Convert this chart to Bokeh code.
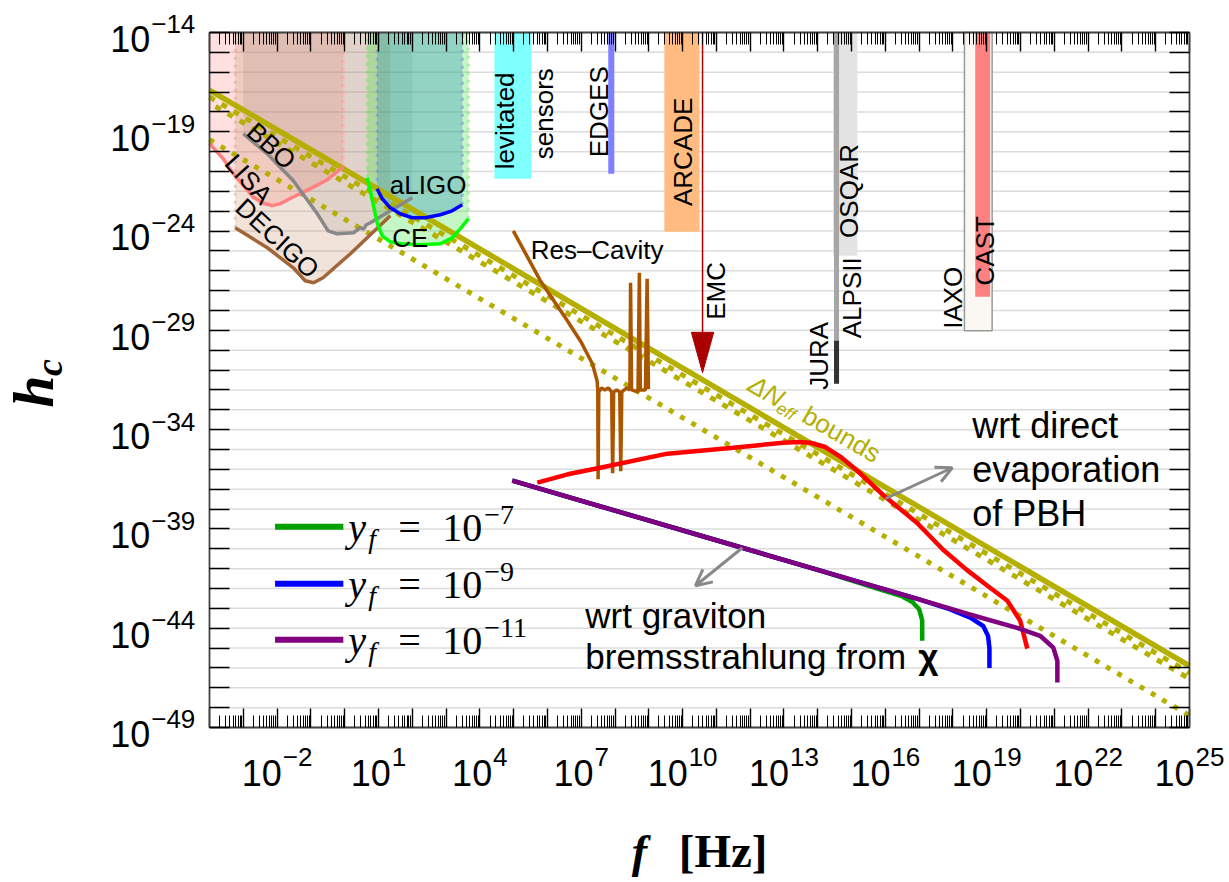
import math
import numpy as np
from bokeh.plotting import figure
from bokeh.models import (LogAxis, FixedTicker, Label, Arrow, OpenHead, Range1d,
                          CustomJSTickFormatter)
from bokeh.embed import file_html
from bokeh.resources import INLINE

# ---------------- data (all values are log10 of f [Hz] and h_c) ----------------
f_min, f_max = -4, 25          # plotted frequency decades
h_min, h_max = -49, -14        # plotted h_c decades
view_f = (-10.185, 26.184)     # whole canvas in log10 f (room for tick labels / titles)
view_h = (-56.806, -12.389)    # whole canvas in log10 h_c
PX_PER_DEC_F = 33.79
PX_PER_DEC_H = 19.857

x_label_exps = [-2, 1, 4, 7, 10, 13, 16, 19, 22, 25]
y_label_exps = [-14, -19, -24, -29, -34, -39, -44, -49]

# Delta N_eff bounds (end points)
neff_f = [-4, 25]
neff_solid = [-16.9, -45.9]
neff_dash_a = [-17.25, -46.25]
neff_dash_b = [-17.55, -46.55]
neff_dot = [-19.4, -48.4]

# detector sensitivity curves
lisa_f = [-4.0, -3.6, -3.3, -3.0, -2.7, -2.4, -2.15, -1.9, -1.6, -1.0, -0.5, -0.04]
lisa_h = [-19.6, -20.35, -21.1, -21.7, -22.3, -22.6, -22.72, -22.62, -22.35, -21.85, -21.4, -20.76]
bbo_f = [-3.0, -2.29, -1.52, -0.81, -0.49, -0.22, 0.26, 0.46, 0.56, 0.64, 0.76, 2.0]
bbo_h = [-19.1, -20.11, -21.47, -23.13, -23.99, -24.14, -24.09, -23.83, -23.9, -23.68, -23.58, -22.32]
decigo_f = [-3.24, -2.29, -1.52, -1.17, -0.92, -0.64, 0.17, 1.35]
decigo_h = [-23.83, -24.84, -25.85, -26.5, -26.6, -26.35, -25.14, -23.23]
aligo_f = [0.96, 1.11, 1.35, 1.64, 2.0, 2.38, 2.83, 3.18, 3.48]
aligo_h = [-21.87, -22.37, -22.83, -23.13, -23.33, -23.33, -23.18, -22.98, -22.68]
ce_f = [0.67, 0.82, 0.96, 1.11, 1.35, 1.64, 2.24, 2.83, 3.18, 3.42, 3.66]
ce_h = [-21.32, -22.47, -23.58, -24.24, -24.54, -24.64, -24.69, -24.64, -24.34, -23.89, -23.38]

# resonant cavity
rescav_f = [4.99, 5.79, 6.59, 7.0, 7.33, 7.47, 7.49, 7.50, 7.52, 7.60, 7.70, 7.80, 7.90, 7.93, 7.96,
            8.05, 8.14, 8.17, 8.20, 8.35, 8.44, 8.46, 8.49, 8.68, 8.72, 8.75, 8.90, 8.95, 8.99]
rescav_h = [-23.99, -26.50, -28.52, -29.6, -30.68, -31.54, -32.04, -36.5, -32.1, -31.9, -32.0, -31.9,
            -32.1, -36.2, -32.1, -32.0, -32.1, -36.1, -32.1, -31.9, -32.0, -26.6, -32.0, -32.1,
            -26.1, -32.0, -32.0, -26.4, -31.95]

# GW signal from direct evaporation of PBH
red_f = [5.70, 6.6, 7.56, 9.55, 11.50, 12.98, 13.4, 13.78, 14.2, 14.7, 15.17, 15.94, 16.94,
         17.71, 18.4, 19.02, 19.61, 19.99, 20.20]
red_h = [-36.67, -36.25, -35.92, -35.21, -34.91, -34.66, -34.62, -34.66, -34.86, -35.4, -36.07,
         -37.3, -38.7, -40.05, -41.05, -41.86, -42.62, -43.62, -45.03]

# graviton bremsstrahlung, three y_f values
y7_f = [4.96, 8.0, 11.0, 14.0, 15.9, 16.5, 16.8, 17.0, 17.09, 17.09]
y7_h = [-36.57, -38.08, -39.57, -41.06, -42.08, -42.4, -42.68, -43.05, -43.6, -44.63]
y9_f = [4.96, 8.0, 11.0, 14.0, 17.0, 17.92, 18.55, 18.9, 19.04, 19.08, 19.08]
y9_h = [-36.57, -38.08, -39.57, -41.06, -42.55, -43.05, -43.5, -43.9, -44.4, -45.0, -46.0]
y11_f = [4.96, 8.0, 11.0, 14.0, 17.0, 18.42, 19.9, 20.58, 20.97, 21.09, 21.09]
y11_h = [-36.57, -38.08, -39.57, -41.06, -42.55, -43.27, -43.98, -44.38, -44.98, -45.64, -46.74]

# experiments (vertical bands): [f_left, f_right], [h_bottom, h_top]
lev_f, lev_h = [4.43, 5.52], [-21.37, -14]
edges_f, edges_h = [7.80, 7.98], [-21.11, -14]
arcade_f, arcade_h = [9.46, 10.50], [-24.04, -14]
osqar_f, osqar_h = [14.45, 15.17], [-25.24, -14]
alps_f, alps_h = [14.48, 14.63], [-29.52, -14]
jura_f, jura_h = [14.48, 14.63], [-31.69, -29.52]
iaxo_f, iaxo_h = [18.34, 19.16], [-29.02, -14]
cast_f, cast_h = [18.66, 19.10], [-27.31, -14]
emc_f, emc_h, emc_tip = 10.59, [-14, -29.1], -31.13

legend_rows = [("−7", "#00a000", -38.89), ("−9", "#0000ff", -41.76), ("−11", "#800080", -44.58)]

OLIVE = "#b4af00"
FRAME = "#444444"


def L(v):
    return 10.0 ** np.asarray(v, dtype=float)


p = figure(width=1229, height=882, x_axis_type="log", y_axis_type="log",
           x_range=Range1d(10.0 ** view_f[0], 10.0 ** view_f[1]),
           y_range=Range1d(10.0 ** view_h[0], 10.0 ** view_h[1]),
           output_backend="svg", toolbar_location=None, title=None,
           min_border_left=0, min_border_right=0, min_border_top=0, min_border_bottom=0)
p.background_fill_color = "white"
p.border_fill_color = "white"
p.outline_line_color = None

xmaj = [10.0 ** k for k in range(f_min, f_max + 1)]
xmin = [m * 10.0 ** k for k in range(f_min, f_max) for m in range(2, 10)]
ymaj = [10.0 ** k for k in range(h_min, h_max + 1)]

# horizontal grid lines (one per decade) limited to the plot box
p.xgrid.visible = False
p.ygrid.visible = False
p.segment(x0=[10.0 ** f_min] * len(ymaj), x1=[10.0 ** f_max] * len(ymaj), y0=ymaj, y1=ymaj,
          line_color="#dcdcdc", line_width=1.5, level="underlay")


def style_axis(ax, horizontal, loc):
    ax.fixed_location = loc
    if horizontal:
        ax.bounds = (10.0 ** f_min, 10.0 ** f_max)
        ax.ticker = FixedTicker(ticks=xmaj, minor_ticks=xmin)
        ax.major_tick_in = 19
        ax.minor_tick_in = 12
    else:
        ax.bounds = (10.0 ** h_min, 10.0 ** h_max)
        ax.ticker = FixedTicker(ticks=ymaj, minor_ticks=[])
        ax.major_tick_in = 20
        ax.minor_tick_in = 0
    ax.major_tick_out = 0
    ax.minor_tick_out = 0
    ax.formatter = CustomJSTickFormatter(code="return ''")
    ax.axis_line_color = FRAME
    ax.axis_line_width = 1.8
    ax.major_tick_line_color = "black"
    ax.major_tick_line_width = 1.4
    ax.minor_tick_line_color = "black"
    ax.minor_tick_line_width = 1.0
    ax.major_label_standoff = 0


style_axis(p.xaxis[0], True, 10.0 ** h_min)
style_axis(p.yaxis[0], False, 10.0 ** f_min)
top_ax = LogAxis()
style_axis(top_ax, True, 10.0 ** h_max)
p.add_layout(top_ax, "above")
right_ax = LogAxis()
style_axis(right_ax, False, 10.0 ** f_max)
p.add_layout(right_ax, "right")


# ---------------- detector shaded regions ----------------
def band(fv, hv, color, alpha):
    xs = list(fv) + [fv[-1], fv[0]]
    ys = list(hv) + [h_max, h_max]
    p.patch(L(xs), L(ys), fill_color=color, fill_alpha=alpha, line_color=None)


band(lisa_f, lisa_h, "#ff8080", 0.25)
band(bbo_f, bbo_h, "#808080", 0.16)
band(decigo_f, decigo_h, "#c08050", 0.22)
band(ce_f, ce_h, "#40e040", 0.3)
band(aligo_f, aligo_h, "#2080c0", 0.3)

for fv, hv, idx, col in [(lisa_f, lisa_h, -1, "#ff9999"), (decigo_f, decigo_h, 0, "#d0a890"),
                         (ce_f, ce_h, 0, "#66ee66"), (aligo_f, aligo_h, 0, "#6688ee"),
                         (aligo_f, aligo_h, -1, "#6688ee"), (ce_f, ce_h, -1, "#66ee66")]:
    p.line(L([fv[idx], fv[idx]]), L([hv[idx], h_max]), line_color=col, line_width=3,
           line_alpha=0.5, line_dash="3 5")

# ---------------- experiment bands ----------------
for fv, hv, col in [(lev_f, lev_h, "#80ffff"), (edges_f, edges_h, "#8080ff"),
                    (arcade_f, arcade_h, "#ffbb80"), (osqar_f, osqar_h, "#e3e3e3"),
                    (alps_f, alps_h, "#a6a6a6"), (jura_f, jura_h, "#333333")]:
    p.quad(left=L(fv[0]), right=L(fv[1]), bottom=L(hv[0]), top=L(hv[1]),
           fill_color=col, line_color=None)
p.quad(left=L(iaxo_f[0]), right=L(iaxo_f[1]), bottom=L(iaxo_h[0]), top=L(iaxo_h[1]),
       fill_color="#fbf7f3", line_color="#999999", line_width=1.5)
p.quad(left=L(cast_f[0]), right=L(cast_f[1]), bottom=L(cast_h[0]), top=L(cast_h[1]),
       fill_color="#ff8080", line_color=None)
p.line(L([emc_f, emc_f]), L(emc_h), line_color="#aa0000", line_width=1.5)
p.patch(L([emc_f - 0.33, emc_f + 0.33, emc_f]), L([emc_h[1], emc_h[1], emc_tip]),
        fill_color="#aa0000", line_color="#aa0000")

# ---------------- Delta N_eff bounds ----------------
p.line(L(neff_f), L(neff_solid), line_color=OLIVE, line_width=5.5)
p.line(L(neff_f), L(neff_dash_a), line_color=OLIVE, line_width=5, line_dash="6 8")
p.line(L(neff_f), L(neff_dash_b), line_color=OLIVE, line_width=5, line_dash="6 8",
       line_dash_offset=7)
p.line(L(neff_f), L(neff_dot), line_color=OLIVE, line_width=5, line_dash="5 8")

# ---------------- detector curves ----------------
p.line(L(lisa_f), L(lisa_h), line_color="#ff8080", line_width=3.5)
p.line(L(bbo_f), L(bbo_h), line_color="#888888", line_width=3.5)
p.line(L(decigo_f), L(decigo_h), line_color="#a0663a", line_width=3.5)
p.line(L(aligo_f), L(aligo_h), line_color="#0000ff", line_width=3.5)
p.line(L(ce_f), L(ce_h), line_color="#00ff00", line_width=3.5)
p.line(L(rescav_f), L(rescav_h), line_color="#aa5500", line_width=3.5)

# ---------------- signals ----------------
p.line(L(red_f), L(red_h), line_color="#ff0000", line_width=4.5)
p.line(L(y7_f), L(y7_h), line_color="#00a000", line_width=4.5)
p.line(L(y9_f), L(y9_h), line_color="#0000ff", line_width=4.5)
p.line(L(y11_f), L(y11_h), line_color="#800080", line_width=4.5)

# arrows
for fs, hs, fe, he in [(16.0, -37.48, 17.98, -35.92), (11.77, -39.95, 10.38, -41.86)]:
    p.add_layout(Arrow(end=OpenHead(line_color="#888888", line_width=3, size=16),
                       x_start=float(L(fs)), y_start=float(L(hs)), x_end=float(L(fe)),
                       y_end=float(L(he)), line_color="#888888", line_width=3))


def lab(lf, lh, text, size, color="black", angle=0, align="center", base=False,
        style="normal", font="Liberation Sans", xoff=0):
    """Place a label; with base=True (lf, lh) is the text baseline point."""
    if base:
        th = math.radians(angle)
        shift = 0.35 * size
        lf = lf - shift * math.sin(th) / PX_PER_DEC_F
        lh = lh + shift * math.cos(th) / PX_PER_DEC_H
    p.add_layout(Label(x=float(L(lf)), y=float(L(lh)), text=text, text_font_size=f"{size}px",
                       text_color=color, angle=angle, angle_units="deg", text_align=align,
                       text_baseline="middle", text_font_style=style, text_font=font,
                       x_offset=xoff))


# experiment / detector labels
for text, lf, lh, ang in [("levitated", 4.75, -18.45, 90), ("sensors", 5.91, -18.09, 90),
                          ("EDGES", 7.53, -17.99, 90), ("ARCADE", 10.02, -20.01, 90),
                          ("EMC", 11.0, -27.01, 90), ("JURA", 14.04, -30.28, 90),
                          ("ALPSII", 15.02, -27.36, 90), ("OSQAR", 14.93, -21.98, 90),
                          ("IAXO", 18.01, -27.36, 90), ("CAST", 18.95, -24.99, 90),
                          ("Res–Cavity", 7.47, -24.94, 0), ("aLIGO", 2.47, -21.67, 0),
                          ("CE", 1.94, -24.34, 0), ("BBO", -2.17, -19.70, -42),
                          ("LISA", -2.84, -21.39, -48), ("DECIGO", -1.99, -24.36, -43)]:
    lab(lf, lh, text, 26, angle=ang)

# Delta N_eff label
lab(11.88, -32.0, "ΔN", 26, color=OLIVE, angle=-30, align="left", base=True, style="italic")
lab(12.73, -33.11, "eff", 17, color=OLIVE, angle=-30, align="left", base=True, style="italic")
lab(13.48, -33.56, "bounds", 26, color=OLIVE, angle=-30, align="left", base=True)

# annotation texts
for text, lh in [("wrt direct", -34.41), ("evaporation", -36.62), ("of PBH", -38.84)]:
    lab(18.57, lh, text, 36, align="left", base=True)
lab(7.12, -43.97, "wrt graviton", 35, align="left", base=True)
lab(7.12, -46.04, "bremsstrahlung from", 35, align="left", base=True)
lab(7.12, -46.04, "χ", 35, align="left", base=True, style="bold", xoff=333)

# legend
for exp, col, row in legend_rows:
    p.line(L([-2.06, -0.04]), L([row, row]), line_color=col, line_width=6)
    bl = row - 0.755
    lab(0.105, bl, "y", 40, align="left", base=True, style="italic", font="Liberation Serif")
    lab(0.105, bl - 0.35, "f", 28, align="left", base=True, style="italic",
        font="Liberation Serif", xoff=20)
    lab(0.105, bl, "=", 40, align="left", base=True, font="Liberation Serif", xoff=50)
    lab(0.105, bl, "10", 40, align="left", base=True, font="Liberation Serif", xoff=94)
    lab(0.105, row + 0.10, exp, 28, align="left", base=True, font="Liberation Serif", xoff=136)


# tick labels
def sup_w(s, size):
    return sum(0.584 if ch == "−" else 0.556 for ch in s) * size


for e in x_label_exps:
    es = str(e).replace("-", "−")
    total = 40 + 1 + sup_w(es, 26)
    lab(e, -51.93, "10", 36, align="left", base=True, xoff=-total / 2)
    lab(e, -50.92, es, 26, align="left", base=True, xoff=-total / 2 + 41)

for e in y_label_exps:
    es = str(e).replace("-", "−")
    lab(-4.42, e - 0.05, es, 26, align="right", base=True)
    lab(-4.42, e - 0.957, "10", 36, align="right", base=True, xoff=-(sup_w(es, 26) + 1))

# axis titles
lab(8.72, -56.06, "f", 46, align="center", base=True, style="bold italic", font="Liberation Serif")
lab(11.20, -56.06, "[Hz]", 47, align="center", base=True, style="bold", font="Liberation Serif")
lab(-8.60, -32.90, "h", 58, angle=90, align="left", base=True, style="bold italic", font="Liberation Serif")
lab(-8.36, -31.30, "c", 38, angle=90, align="left", base=True, style="bold italic", font="Liberation Serif")

open("out.html", "w").write(file_html(p, INLINE))
